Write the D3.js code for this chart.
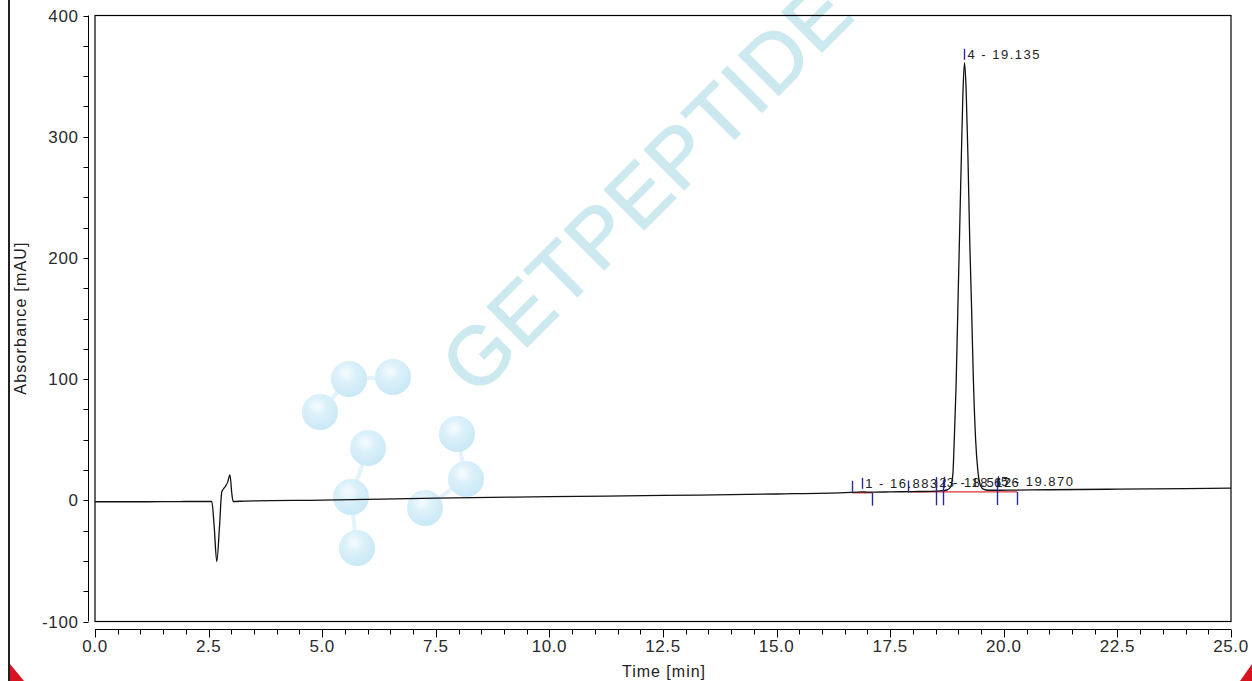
<!DOCTYPE html>
<html>
<head>
<meta charset="utf-8">
<script src="https://cdn.jsdelivr.net/npm/d3@7"></script>
<style>
  body { margin: 0; background: #fff; }
  svg { display: block; font-family: Arial, "Liberation Sans", sans-serif; }
</style>
</head>
<body>
<svg id="chart" width="1252" height="681"></svg>
<script>
// signal trace (time in min, absorbance in mAU)
const traceTime = [0, 1.0, 2.0, 2.45, 2.57, 2.62, 2.68, 2.74, 2.79, 2.86, 2.92, 2.97, 3.01, 3.04, 3.3, 5.0, 7.5, 10.0, 12.5, 15.0, 16.5,
  16.8, 16.9, 17.0, 17.5, 18.0, 18.4, 18.6, 18.75, 18.83, 18.88, 18.91, 18.95, 18.99, 19.03, 19.07, 19.10, 19.135, 19.17, 19.21,
  19.25, 19.29, 19.33, 19.38, 19.43, 19.49, 19.56, 19.65, 19.9, 20.2, 21.0, 22.5, 24.0, 25.0];
const traceValue = [-1.2, -1.2, -1.0, -1.0, -1.0, -20, -50.5, -21.6, 7, 11, 15, 21, 6, -1, -0.6, 0.2, 1.8, 3.0, 4.0, 5.2, 6.3,
  6.8, 7.0, 6.7, 6.9, 7.2, 7.4, 7.8, 8.5, 11, 22, 50, 95, 160, 225, 290, 335, 361, 340, 285,
  215, 160, 100, 50, 24, 12, 9, 8.3, 8.3, 8.4, 8.7, 9.2, 9.7, 10.0];

// peak table
const peakIds = ["1", "2", "3", "4", "5"];
const peakTimes = [16.883, 18.512, 18.676, 19.135, 19.870];
const peakHeights = [7.0, 7.6, 7.9, 361, 8.3];

// integration marks
const markTimes = [16.66, 17.10, 17.89, 18.51, 18.66, 19.85, 20.29];
const markDirs = ["up", "down", "up", "both", "both", "both", "down"];
const baseSegStart = [16.66, 17.89];
const baseSegEnd = [17.10, 20.29];
const baseSegValue = [6.2, 6.9];

const xTicks = [0, 2.5, 5, 7.5, 10, 12.5, 15, 17.5, 20, 22.5, 25];
const yTicks = [-100, 0, 100, 200, 300, 400];

const svg = d3.select("#chart");
const box = { left: 95, right: 1231, top: 15.5, bottom: 621.5 };

const x = d3.scaleLinear().domain([0, 25]).range([box.left, box.right]);
const y = d3.scaleLinear().domain([-100, 400]).range([box.bottom, box.top]);

// watermark
const wm = svg.append("g").attr("class", "watermark");
const grad = svg.append("defs").append("radialGradient").attr("id", "ball")
  .attr("cx", "42%").attr("cy", "35%").attr("r", "65%");
grad.append("stop").attr("offset", "0%").attr("stop-color", "#f6fcfe");
grad.append("stop").attr("offset", "40%").attr("stop-color", "#dcf1fa");
grad.append("stop").attr("offset", "100%").attr("stop-color", "#c9e8f6");

const balls = [[320, 412], [349, 379], [393, 377], [368, 448], [351, 497], [357, 548], [425, 508], [457, 434], [466, 479]];
const bonds = [[0, 1], [1, 2], [3, 4], [4, 5], [7, 8], [8, 6]];
wm.selectAll("line").data(bonds).join("line")
  .attr("x1", d => balls[d[0]][0]).attr("y1", d => balls[d[0]][1])
  .attr("x2", d => balls[d[1]][0]).attr("y2", d => balls[d[1]][1])
  .attr("stroke", "#e3f3fa").attr("stroke-width", 4);
wm.selectAll("circle").data(balls).join("circle")
  .attr("cx", d => d[0]).attr("cy", d => d[1]).attr("r", 18)
  .attr("fill", "url(#ball)");
wm.append("text")
  .attr("transform", "translate(476,398) rotate(-45)")
  .attr("font-size", 82).attr("letter-spacing", 2)
  .attr("fill", "#cbe9ef").attr("stroke", "#cbe9ef").attr("stroke-width", 1.5)
  .text("GETPEPTIDE");

// outer frame pieces
svg.append("line").attr("x1", 9).attr("x2", 9).attr("y1", 0).attr("y2", 681)
  .attr("stroke", "#222").attr("stroke-width", 2);
svg.append("path").attr("d", "M10,664 L10,681 L24,681 Z").attr("fill", "#d8121e");
svg.append("path").attr("d", "M1252,664 L1252,681 L1240,681 Z").attr("fill", "#d8121e");

// plot box
svg.append("rect")
  .attr("x", box.left).attr("y", box.top)
  .attr("width", box.right - box.left).attr("height", box.bottom - box.top)
  .attr("fill", "none").attr("stroke", "#000").attr("stroke-width", 1.2);

// y axis (offset left of the box)
const yAxis = svg.append("g").attr("transform", "translate(88.5,0)");
yAxis.append("line").attr("y1", y(400)).attr("y2", y(-100)).attr("stroke", "#000");
yAxis.selectAll("line.minor").data(d3.range(-100, 400.1, 25)).join("line")
  .attr("class", "minor")
  .attr("x1", 0).attr("x2", -5)
  .attr("y1", d => Math.round(y(d)) + 0.5).attr("y2", d => Math.round(y(d)) + 0.5)
  .attr("stroke", "#000");
yAxis.selectAll("text").data(yTicks).join("text")
  .attr("x", -10).attr("y", d => y(d)).attr("dy", "0.36em")
  .attr("text-anchor", "end").attr("font-size", 17).attr("letter-spacing", 0.6).attr("fill", "#2a2a2a")
  .text(d => d);

// x axis (offset below the box)
const xAxis = svg.append("g").attr("transform", "translate(0,629.5)");
xAxis.append("line").attr("x1", x(0)).attr("x2", x(25)).attr("stroke", "#000");
xAxis.selectAll("line.minor").data(d3.range(0, 25.01, 0.5)).join("line")
  .attr("class", "minor")
  .attr("x1", d => Math.round(x(d)) + 0.5).attr("x2", d => Math.round(x(d)) + 0.5)
  .attr("y1", 0).attr("y2", d => (Math.abs(d / 2.5 - Math.round(d / 2.5)) < 1e-6 ? 8 : 5))
  .attr("stroke", "#000");
xAxis.selectAll("text").data(xTicks).join("text")
  .attr("x", d => x(d)).attr("y", 22)
  .attr("text-anchor", "middle").attr("font-size", 17).attr("letter-spacing", 0.6).attr("fill", "#2a2a2a")
  .text(d => d3.format(".1f")(d));

svg.append("text").attr("x", 664).attr("y", 677)
  .attr("text-anchor", "middle").attr("font-size", 16).attr("letter-spacing", 1).attr("fill", "#222")
  .text("Time [min]");
svg.append("text").attr("transform", "translate(26,318) rotate(-90)")
  .attr("text-anchor", "middle").attr("font-size", 16).attr("letter-spacing", 1.2).attr("fill", "#222")
  .text("Absorbance [mAU]");

// integration baselines
svg.selectAll("line.baseSeg").data(baseSegStart).join("line")
  .attr("class", "baseSeg")
  .attr("x1", d => x(d)).attr("x2", (d, i) => x(baseSegEnd[i]))
  .attr("y1", (d, i) => y(baseSegValue[i])).attr("y2", (d, i) => y(baseSegValue[i]))
  .attr("stroke", "#e0303a").attr("stroke-width", 1.3);

// trace
const trace = traceTime.map((t, i) => [t, traceValue[i]]);
svg.append("path").datum(trace)
  .attr("fill", "none").attr("stroke", "#111").attr("stroke-width", 1.3)
  .attr("d", d3.line().x(d => x(d[0])).y(d => y(d[1])).curve(d3.curveMonotoneX));

// integration marks
const markBase = d3.scaleLinear().domain([16.66, 20.29]).range([6.2, 6.9]);
svg.selectAll("line.mark").data(markTimes).join("line")
  .attr("class", "mark")
  .attr("x1", d => Math.round(x(d)) + 0.5).attr("x2", d => Math.round(x(d)) + 0.5)
  .attr("y1", (d, i) => y(markBase(d)) + (markDirs[i] === "down" ? 0 : -12))
  .attr("y2", (d, i) => y(markBase(d)) + (markDirs[i] === "up" ? 0 : 13))
  .attr("stroke", "#2a2aa0").attr("stroke-width", 1.4);

// peak labels
const peaks = peakIds.map((id, i) => ({ id, t: peakTimes[i], h: peakHeights[i] }));
svg.selectAll("line.apex").data(peaks).join("line")
  .attr("class", "apex")
  .attr("x1", d => Math.round(x(d.t)) + 0.5).attr("x2", d => Math.round(x(d.t)) + 0.5)
  .attr("y1", d => y(d.h) - 14).attr("y2", d => y(d.h) - 3)
  .attr("stroke", "#2a2aa0").attr("stroke-width", 1.4);
svg.selectAll("text.peak").data(peaks).join("text")
  .attr("class", "peak")
  .attr("x", d => x(d.t) + 3).attr("y", d => y(d.h) - 4)
  .attr("font-size", 13).attr("letter-spacing", 1.5).attr("fill", "#222")
  .text(d => `${d.id} - ${d.t.toFixed(3)}`);
</script>
</body>
</html>
